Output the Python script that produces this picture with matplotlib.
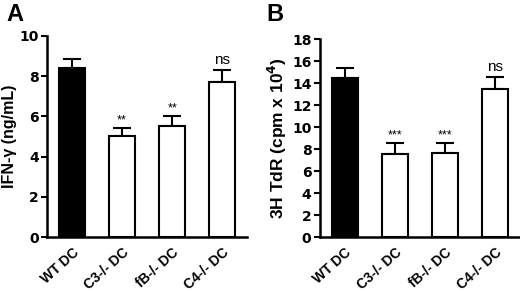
import matplotlib
matplotlib.use("Agg")
from matplotlib import pyplot as plt

groups = ["WT DC", "C3-/- DC", "fB-/- DC", "C4-/- DC"]
ifn_mean = [8.4, 5.05, 5.5, 7.7]
ifn_err = [0.45, 0.35, 0.5, 0.6]
ifn_sig = ["", "**", "**", "ns"]
tdr_mean = [14.45, 7.55, 7.65, 13.45]
tdr_err = [0.9, 1.0, 0.9, 1.1]
tdr_sig = ["", "***", "***", "ns"]
bar_colors = ["black", "white", "white", "white"]

plt.rcParams["font.family"] = ["Liberation Sans", "DejaVu Sans"]
plt.rcParams["font.weight"] = "bold"

fig = plt.figure(figsize=(5.2, 2.92), dpi=100)
ax_a = fig.add_axes([0.0904, 0.188, 0.385, 0.689])
ax_b = fig.add_axes([0.615, 0.188, 0.385, 0.678])


def draw_panel(ax, means, errs, sigs, ymax, step, ylabel, lsize):
    x = range(len(groups))
    ax.bar(x, means, width=0.52, color=bar_colors, edgecolor="black", linewidth=1.5, zorder=2)
    ax.errorbar(x, means, yerr=[[0] * len(errs), errs], fmt="none", ecolor="black",
                elinewidth=1.5, capsize=6.5, capthick=1.5, zorder=1)
    for i, s in enumerate(sigs):
        if s:
            if s == "ns":
                ax.text(i, means[i] + errs[i] + ymax * 0.015, s, ha="center", va="bottom",
                        fontsize=11, fontweight="normal")
            else:
                ax.text(i, means[i] + errs[i] + ymax * 0.01, s, ha="center", va="bottom",
                        fontsize=9, fontweight="normal")
    ax.set_xlim(-0.5, 3.5)
    ax.set_ylim(0, ymax)
    ax.set_yticks(range(0, ymax + 1, step))
    ax.set_xticks(list(x))
    ax.set_xticklabels(groups, rotation=42, ha="right", rotation_mode="anchor",
                       fontsize=10, fontweight="bold")
    ax.tick_params(axis="x", length=0, pad=6)
    ax.tick_params(axis="y", width=1.5, length=4, pad=2)
    for lab in ax.get_yticklabels():
        lab.set_fontweight("bold")
        lab.set_fontfamily("DejaVu Sans")
        lab.set_fontsize(10)
    ax.spines["top"].set_visible(False)
    ax.spines["right"].set_visible(False)
    ax.spines["left"].set_linewidth(1.8)
    ax.spines["bottom"].set_linewidth(1.8)
    ax.set_ylabel(ylabel, fontsize=lsize, fontweight="bold", labelpad=2)


draw_panel(ax_a, ifn_mean, ifn_err, ifn_sig, 10, 2, "IFN-\u03b3 (ng/mL)", 11.5)
draw_panel(ax_b, tdr_mean, tdr_err, tdr_sig, 18, 2, "3H TdR (cpm x 10$^{\\mathbf{4}}$)", 12.5)

fig.text(0.012, 0.99, "A", fontsize=17, fontweight="bold", va="top")
fig.text(0.512, 0.99, "B", fontsize=17, fontweight="bold", va="top")

fig.savefig("out.png", dpi=100)
